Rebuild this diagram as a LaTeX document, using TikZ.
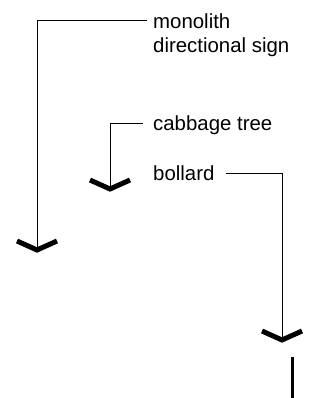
\documentclass[tikz,border=0pt]{standalone}
\usepackage{fontspec}
\setmainfont{Liberation Sans}
\begin{document}
\begin{tikzpicture}[x=1pt,y=-1pt,
  lbl/.style={font=\fontsize{20.4}{24}\selectfont, anchor=base west, inner sep=0pt, align=left},
  leader/.style={line width=1pt},
  chev/.style={line width=5pt, line join=miter, line cap=butt},
  post/.style={line width=3pt}]
\useasboundingbox (0,0) rectangle (320,398);
% labels
\node[lbl] (mono) at (153,29) {monolith};
\node[lbl] (mono2) at (153,53) {directional sign};
\node[lbl] (cab) at (153,131) {cabbage tree};
\node[lbl] (bol) at (153,180) {bollard};
% leader ends and tips
\coordinate (monoEnd) at (147,21);
\coordinate (monoTip) at (37,250);
\coordinate (cabEnd) at (143,124);
\coordinate (cabTip) at (110,189);
\coordinate (bolEnd) at (226,173);
\coordinate (bolTip) at (282,340);
% leaders
\draw[leader] (monoEnd) -| (monoTip);
\draw[leader] (cabEnd) -| (cabTip);
\draw[leader] (bolEnd) -| (bolTip);
% chevrons
\draw[chev] ([shift={(-20,-9)}]monoTip) -- (monoTip) -- ([shift={(20,-9)}]monoTip);
\draw[chev] ([shift={(-20,-9)}]cabTip) -- (cabTip) -- ([shift={(20,-9)}]cabTip);
\draw[chev] ([shift={(-20,-9)}]bolTip) -- (bolTip) -- ([shift={(20,-9)}]bolTip);
% post
\coordinate (postTop) at (292,357);
\coordinate (postBot) at (292,398);
\draw[post] (postTop) -- (postBot);
\end{tikzpicture}
\end{document}
